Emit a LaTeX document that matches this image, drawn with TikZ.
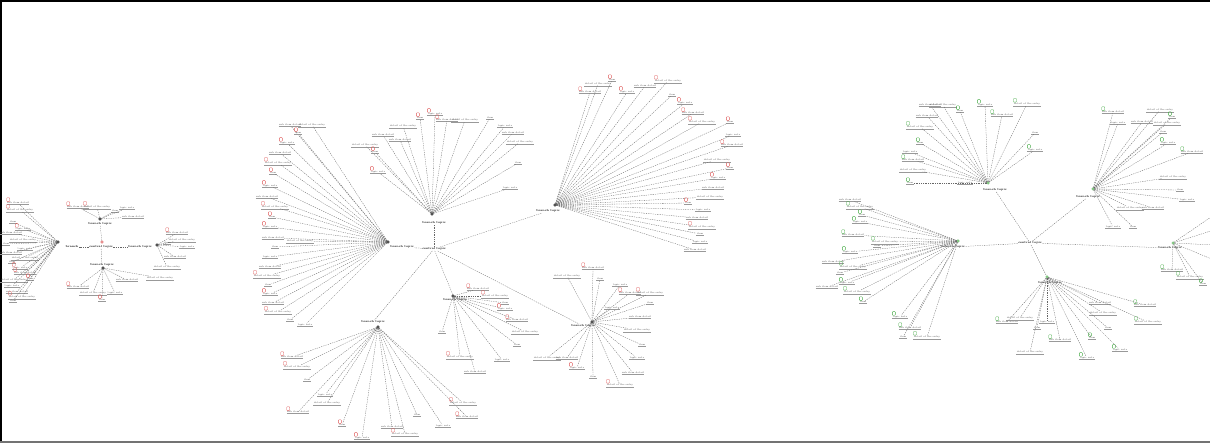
\documentclass[tikz,border=0pt]{standalone}
\usepackage{tikz}
\usetikzlibrary{positioning}

\definecolor{iconred}{RGB}{222,90,90}
\definecolor{icongreen}{RGB}{70,170,70}

% one fan of leaves round a hub: #1 source node, #2 name prefix, #3 x/y/colour list
\newcommand\fanout[3]{%
  \foreach \px/\py/\col [count=\idx] in {#3}{%
    \pgfmathtruncatemacro\kk{mod(\idx,4)}%
    \node[leaf] (#2-\idx) at (\px,\py) {\ifcase\kk topic note\or sub item detail\or detail of the entry\or item\fi};
    \draw[under] (#2-\idx.south west) -- (#2-\idx.south east);
    \node[icon=\col, anchor=south west] (#2-\idx-ic) at (#2-\idx.north west) {};
    \draw[link] (#1) -- (#2-\idx);
  }}

\begin{document}
\begin{tikzpicture}[x=1pt,y=1pt,yscale=-1,xscale=1,
  leaf/.style={font=\fontsize{2.4}{2.8}\selectfont, inner sep=0.4pt, text=black!70},
  hub/.style={font=\bfseries\fontsize{2.8}{3.2}\selectfont, inner sep=0.5pt, text=black},
  under/.style={line width=0.3pt, draw=black!40},
  link/.style={line width=0.3pt, draw=black!60, dash pattern=on 1.3pt off 1pt},
  icon/.style={draw=#1, line width=0.35pt, minimum width=3pt, minimum height=3.6pt, inner sep=0pt, rounded corners=0.6pt},
  hubdot/.style={circle, draw=#1, fill=#1!40, line width=0.3pt, inner sep=0pt, minimum size=2.6pt}]
\useasboundingbox (0,0) rectangle (1210,443);
\clip (0,0) rectangle (1210,443);

%Frame
\draw [line width=2.5pt] (0,1.2) -- (1210,1.2);
\draw [line width=2pt] (1,0) -- (1,443);
\draw [line width=2pt, draw=black!55] (0,441.8) -- (1210,441.8);

%%% Left map
\node[hub] (root1) at (101,247) {central topic};
\node[hubdot=iconred] (root1-ic) at (102,242) {};
\node[hub] (hubA1) at (72,247) {branch};
\node[hubdot=black] (hubA1-ic) at (58,242) {};
\node[hub] (hubB1) at (100,224) {branch topic};
\node[hubdot=black] (hubB1-ic) at (100,219) {};
\node[hub] (hubC1) at (140,247) {branch topic};
\node[hubdot=black] (hubC1-ic) at (157,245) {};
\node[hub] (hubD1) at (102,265) {branch topic};
\node[hubdot=black] (hubD1-ic) at (103,268) {};
\draw[link] (root1) -- (hubA1);
\draw[link] (root1-ic) -- (hubB1);
\draw[link] (root1) -- (hubC1);
\draw[link] (root1) -- (hubD1);
\fanout{hubA1-ic}{a1}{18/203/iconred, 20/210/iconred, 13/222/none, 23/229/iconred, 11/233/none, 23/240/none, 6/244/none, 25/249/none, 11/253/none, 25/258/none, 12/262/none, 20/268/iconred, 25/273/iconred, 14/280/none, 30/279/iconred, 12/286/none, 17/292/none, 22/297/iconred, 13/301/none}
\fanout{hubB1-ic}{b1}{78/207/iconred, 97/207/iconred, 115/211/none, 127/208/none, 133/217/none}
\fanout{hubC1-ic}{c1}{177/233/iconred, 182/240/none, 167/243/none, 187/247/none, 175/257/none, 167/267/none}
\fanout{hubD1-ic}{d1}{78/287/iconred, 93/293/none, 102/300/iconred, 115/293/none, 127/280/none, 160/278/none}

%%% Middle map
\node[hub] (root2) at (434,249) {central topic};
\node[hub] (hubL2) at (402,247) {branch topic};
\node[hubdot=black] (hubL2-ic) at (388,242) {};
\node[hub] (hubT2) at (434,223) {branch topic};
\node[hubdot=black] (hubT2-ic) at (432,214) {};
\node[hub] (hubR2) at (548,211) {branch topic};
\node[hubdot=black] (hubR2-ic) at (555,205) {};
\node[hub] (hubBL2) at (373,322) {branch topic};
\node[hubdot=black] (hubBL2-ic) at (378,327) {};
\node[hub] (hubBM2) at (455,300) {branch topic};
\node[hubdot=black] (hubBM2-ic) at (453,296) {};
\node[hub] (hubBR2) at (583,326) {branch topic};
\node[hubdot=black] (hubBR2-ic) at (592,322) {};
\draw[link] (root2) -- (hubL2);
\draw[link] (root2) -- (hubT2);
\draw[link] (root2) -- (hubR2);
\draw[link] (root2) -- (hubBL2);
\draw[link] (root2) -- (hubBM2);
\draw[link] (root2) -- (hubBR2);
\fanout{hubL2-ic}{l2}{290/125/none, 312/125/none, 298/133/iconred, 287/143/iconred, 280/153/none, 278/163/iconred, 273/173/iconred, 270/186/iconred, 267/197/none, 275/207/iconred, 272/217/iconred, 270/227/iconred, 273/238/none, 300/241/none, 275/247/none, 270/257/none, 270/267/none, 267/276/iconred, 268/285/none, 270/294/iconred, 273/303/none, 278/312/iconred, 290/320/none, 305/325/none}
\fanout{hubT2-ic}{t2}{383/135/none, 365/145/none, 375/152/iconred, 378/172/iconred, 400/140/none, 403/126/none, 420/118/iconred, 435/114/iconred, 447/120/iconred, 465/120/none, 490/118/none, 505/126/none, 513/133/none, 520/142/none, 518/163/none, 510/188/none}
\fanout{hubR2-ic}{r2}{590/92/iconred, 598/84/none, 612/80/iconred, 627/92/iconred, 645/86/none, 668/81/iconred, 672/95/none, 685/103/iconred, 693/113/iconred, 702/122/iconred, 730/122/iconred, 733/135/none, 732/145/iconred, 717/160/none, 730/168/iconred, 718/178/iconred, 713/188/none, 710/197/none, 688/203/iconred, 703/210/none, 697/218/none, 702/227/iconred, 700/234/none, 700/242/none, 695/250/none}
\fanout{hubBL2-ic}{bl2}{292/357/iconred, 297/367/iconred, 307/380/none, 325/395/none, 298/412/iconred, 327/403/none, 342/425/iconred, 362/438/iconred, 392/427/none, 405/434/iconred, 417/415/none, 443/426/none, 467/417/iconred, 463/403/iconred}
\fanout{hubBM2-ic}{bm2}{478/289/iconred, 495/296/iconred, 505/303/none, 505/309/iconred, 517/320/iconred, 525/332/none, 517/345/none, 502/360/none, 475/372/none, 460/357/iconred, 442/332/none}
\fanout{hubBR2-ic}{br2}{593/268/iconred, 567/276/none, 600/279/none, 620/285/none, 630/293/iconred, 650/293/iconred, 650/303/none, 612/308/none, 640/317/none, 637/330/none, 642/345/none, 637/358/none, 633/373/none, 620/385/iconred, 593/377/none, 577/368/iconred, 567/358/none, 547/358/none}

%%% Right map
\node[hub] (root3) at (1030,243) {central topic};
\node[hub] (hub3T) at (995,190) {branch topic};
\node[hubdot=icongreen] (hub3T-ic) at (988,183) {};
\node[hub] (hub3TR) at (1088,197) {branch topic};
\node[hubdot=icongreen] (hub3TR-ic) at (1093,189) {};
\node[hub] (hub3L) at (953,247) {branch topic};
\node[hubdot=icongreen] (hub3L-ic) at (958,241) {};
\node[hub] (hub3B) at (1050,283) {branch topic};
\node[hubdot=icongreen] (hub3B-ic) at (1047,277) {};
\node[hub] (hub3R) at (1170,248) {branch topic};
\node[hubdot=icongreen] (hub3R-ic) at (1173,243) {};
\draw[link] (root3) -- (hub3T);
\draw[link] (root3) -- (hub3TR);
\draw[link] (root3) -- (hub3L);
\draw[link] (root3) -- (hub3B-ic);
\draw[link] (root3) -- (hub3R);
\fanout{hub3T-ic}{t3}{930/105/none, 943/105/none, 960/111/icongreen, 985/105/icongreen, 1002/115/icongreen, 1027/104/icongreen, 1035/133/none, 1035/150/icongreen, 927/116/none, 920/127/icongreen, 920/143/icongreen, 910/152/none, 913/160/icongreen, 913/170/none, 910/183/icongreen, 965/183/none}
\fanout{hub3TR-ic}{tr3}{1113/112/icongreen, 1160/110/none, 1172/117/icongreen, 1118/123/none, 1142/122/none, 1167/123/none, 1163/132/none, 1168/143/icongreen, 1192/152/icongreen, 1173/177/none, 1180/190/none, 1187/200/none, 1153/208/none, 1130/208/none, 1133/227/none, 1113/227/none}
\fanout{hub3L-ic}{l3}{850/200/none, 860/207/icongreen, 862/215/icongreen, 860/222/icongreen, 853/235/icongreen, 885/242/icongreen, 877/246/none, 850/252/icongreen, 833/262/none, 853/267/icongreen, 840/273/none, 847/283/icongreen, 827/287/none, 857/292/icongreen, 863/302/icongreen, 900/317/icongreen, 910/328/icongreen, 927/337/icongreen, 903/337/none}
\fanout{hub3B-ic}{b3}{1007/322/icongreen, 1020/318/none, 1037/328/none, 1047/322/none, 1060/340/icongreen, 1030/352/none, 1092/338/icongreen, 1087/358/icongreen, 1100/303/none, 1103/313/none, 1108/328/none, 1120/350/icongreen, 1145/305/icongreen, 1148/322/icongreen}
\fanout{hub3R-ic}{r3}{1172/270/icongreen, 1190/277/icongreen, 1203/284/icongreen}
% branches running off the right edge
\foreach \py [count=\idx] in {215,230,245,260}{
  \coordinate (r3off-\idx) at (1214,\py);
  \draw[link] (hub3R-ic) -- (r3off-\idx);
}

\end{tikzpicture}
\end{document}
